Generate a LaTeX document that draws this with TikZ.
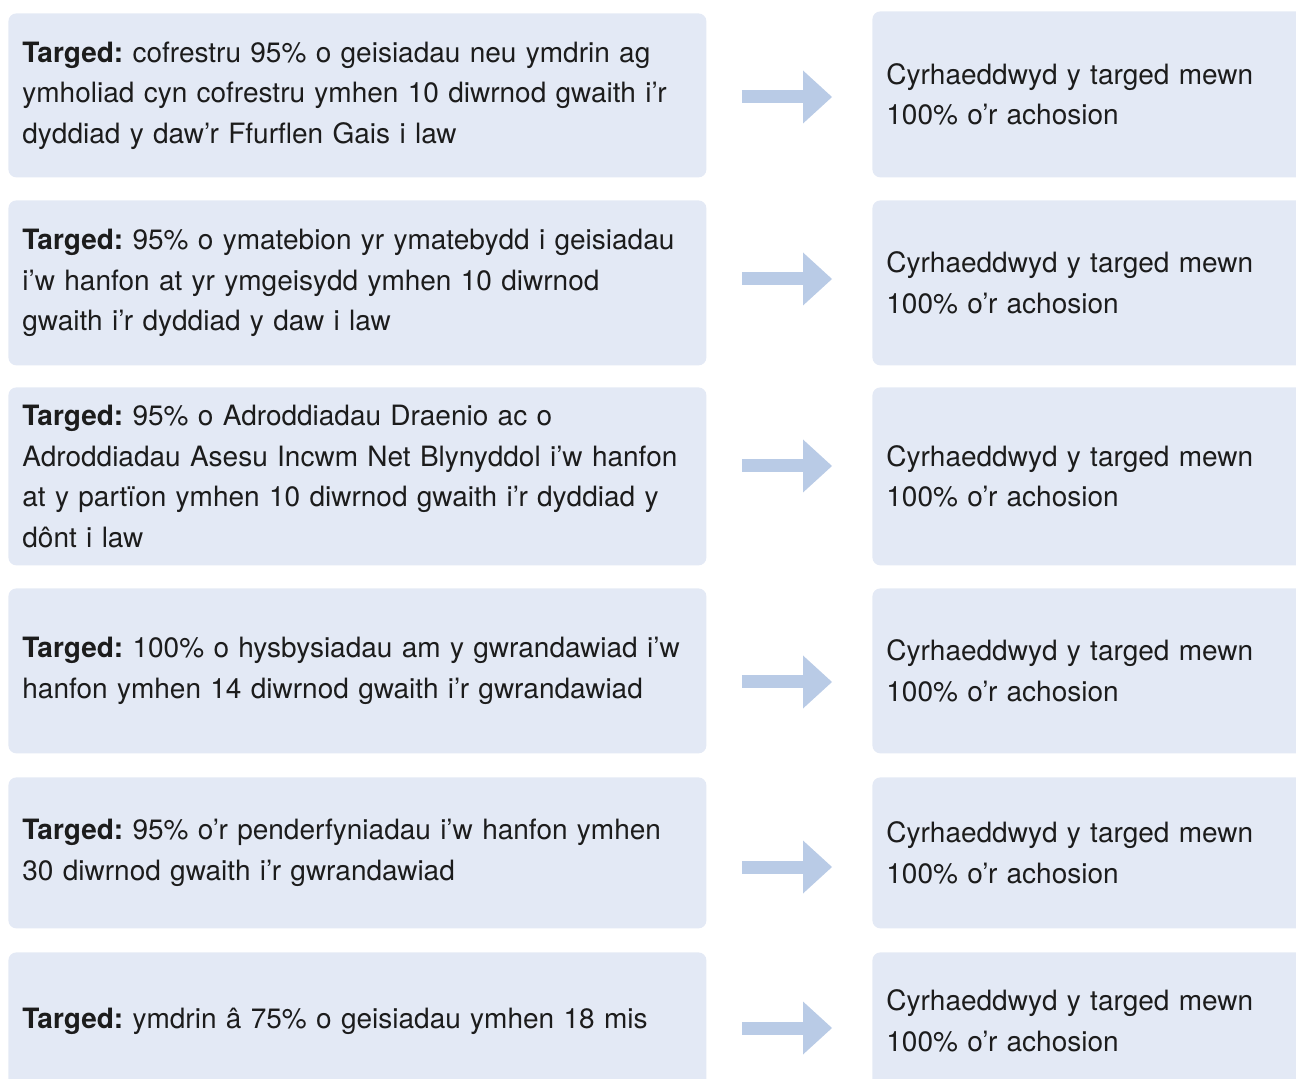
\documentclass[tikz,border=0pt]{standalone}
\usepackage{fontspec}
\setmainfont{TeX Gyre Heros}
\usetikzlibrary{arrows.meta}

\begin{document}
\begin{tikzpicture}[x=0.5pt, y=-0.5pt,
    target/.style={anchor=north west, fill=boxblue, rounded corners=4pt,
        text=ink, align=left, text width=335pt, inner xsep=7pt,
        minimum width=349pt,
        font=\fontsize{14pt}{20.25pt}\selectfont\frenchspacing},
    result/.style={target, text width=215pt, minimum width=229pt},
    flow/.style={draw=arrowblue, line width=6.5pt,
        -{Triangle[length=14.5pt, width=26.5pt, line width=0pt]},
        shorten <=17.5pt, shorten >=20pt}]
    \definecolor{boxblue}{RGB}{227, 233, 245}
    \definecolor{arrowblue}{RGB}{185, 203, 230}
    \definecolor{ink}{RGB}{28, 28, 28}
    \useasboundingbox (0,0) rectangle (1296,1079);
    \clip (0,0) rectangle (1296,1079);

    \node[target, minimum height=82pt] (l1) at (8,13)
        {\textbf{Targed:} cofrestru 95\% o geisiadau neu ymdrin ag\\
        ymholiad cyn cofrestru ymhen 10 diwrnod gwaith i’r\\
        dyddiad y daw’r Ffurflen Gais i law};
    \node[result, minimum height=83pt] (r1) at (872,11)
        {Cyrhaeddwyd y targed mewn\\ 100\% o’r achosion};
    \coordinate (a1) at (786,97);
    \draw[flow] (l1.east |- a1) -- (r1.west |- a1);

    \node[target, minimum height=82.5pt] (l2) at (8,200)
        {\textbf{Targed:} 95\% o ymatebion yr ymatebydd i geisiadau\\
        i’w hanfon at yr ymgeisydd ymhen 10 diwrnod\\
        gwaith i’r dyddiad y daw i law};
    \node[result, minimum height=82.5pt] (r2) at (872,200)
        {Cyrhaeddwyd y targed mewn\\ 100\% o’r achosion};
    \coordinate (a2) at (786,279);
    \draw[flow] (l2.east |- a2) -- (r2.west |- a2);

    \node[target, minimum height=89pt] (l3) at (8,387)
        {\textbf{Targed:} 95\% o Adroddiadau Draenio ac o\\
        Adroddiadau Asesu Incwm Net Blynyddol i’w hanfon\\
        at y partïon ymhen 10 diwrnod gwaith i’r dyddiad y\\
        dônt i law};
    \node[result, minimum height=89pt] (r3) at (872,387)
        {Cyrhaeddwyd y targed mewn\\ 100\% o’r achosion};
    \coordinate (a3) at (786,466);
    \draw[flow] (l3.east |- a3) -- (r3.west |- a3);

    \node[target, minimum height=82.5pt] (l4) at (8,588)
        {\textbf{Targed:} 100\% o hysbysiadau am y gwrandawiad i’w\\
        hanfon ymhen 14 diwrnod gwaith i’r gwrandawiad};
    \node[result, minimum height=82.5pt] (r4) at (872,588)
        {Cyrhaeddwyd y targed mewn\\ 100\% o’r achosion};
    \coordinate (a4) at (786,682);
    \draw[flow] (l4.east |- a4) -- (r4.west |- a4);

    \node[target, minimum height=75.5pt] (l5) at (8,777)
        {\textbf{Targed:} 95\% o’r penderfyniadau i’w hanfon ymhen\\
        30 diwrnod gwaith i’r gwrandawiad};
    \node[result, minimum height=75.5pt] (r5) at (872,777)
        {Cyrhaeddwyd y targed mewn\\ 100\% o’r achosion};
    \coordinate (a5) at (786,867);
    \draw[flow] (l5.east |- a5) -- (r5.west |- a5);

    \node[target, minimum height=68.5pt] (l6) at (8,952)
        {\textbf{Targed:} ymdrin â 75\% o geisiadau ymhen 18 mis};
    \node[result, minimum height=68.5pt] (r6) at (872,952)
        {Cyrhaeddwyd y targed mewn\\ 100\% o’r achosion};
    \coordinate (a6) at (786,1028);
    \draw[flow] (l6.east |- a6) -- (r6.west |- a6);
\end{tikzpicture}
\end{document}
